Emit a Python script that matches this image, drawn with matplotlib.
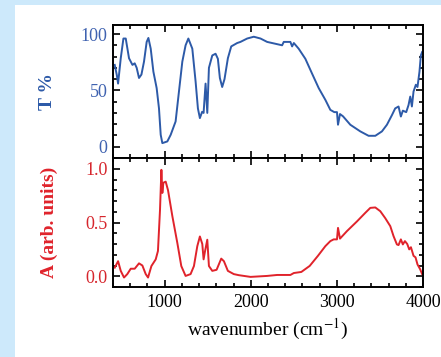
import matplotlib
matplotlib.use('Agg')
import matplotlib.pyplot as plt
from matplotlib.patches import Rectangle
from matplotlib.ticker import MultipleLocator

plt.rcParams['font.family'] = ['Liberation Serif', 'DejaVu Serif']
plt.rcParams['mathtext.fontset'] = 'stix'

# transmittance spectrum
wn_t = [420, 444, 459, 490, 521, 548, 586, 626, 652, 675, 702, 730, 760, 791, 811,
        838, 869, 907, 934, 954, 973, 1031, 1070, 1127, 1166, 1205, 1243, 1275, 1321,
        1359, 1386, 1409, 1435, 1452, 1475, 1495, 1514, 1553, 1591, 1618, 1641, 1668,
        1695, 1734, 1773, 1842, 1880, 1958, 2035, 2113, 2190, 2306, 2364, 2383, 2460,
        2480, 2500, 2556, 2634, 2711, 2789, 2866, 2924, 2970, 3001, 3013, 3036, 3071,
        3156, 3272, 3368, 3446, 3523, 3581, 3639, 3677, 3716, 3743, 3766, 3805, 3832,
        3852, 3871, 3890, 3917, 3936, 3959, 3975, 3990]
trans = [72.6, 63.7, 56, 78.5, 96, 96, 78.5, 72.6, 74, 70, 61, 64, 75.5, 93, 96.5,
         87, 66.6, 52, 34, 10.6, 3.2, 4.7, 10.6, 22.4, 49, 75.5, 90, 96, 87,
         58, 34, 25.4, 31, 30, 56, 30, 70, 81, 82.5, 78, 61, 53,
         60, 78.5, 89, 92, 93, 96, 97.6, 96, 93, 91, 90, 93, 93,
         89, 92, 87, 78, 65, 52, 41.6, 32.7, 30.7, 30.7, 19.5, 29, 27,
         19.5, 13.6, 9.7, 9.7, 13.6, 19.5, 28, 34, 35.7, 26.8, 32, 30.7, 37,
         44.5, 35.7, 49, 55, 53, 66.6, 81, 84]

# absorbance spectrum
wn_a = [420, 459, 490, 528, 566, 606, 652, 702, 741, 780, 807, 846, 896, 922, 946,
        962, 973, 985, 1012, 1039, 1089, 1147, 1193, 1243, 1301, 1340, 1379, 1409,
        1437, 1452, 1468, 1495, 1514, 1553, 1603, 1657, 1688, 1734, 1803, 1861, 1997,
        2190, 2306, 2460, 2500, 2587, 2684, 2780, 2866, 2924, 2963, 3001, 3013, 3036,
        3117, 3233, 3330, 3388, 3446, 3504, 3562, 3620, 3658, 3697, 3716, 3743, 3766,
        3790, 3817, 3840, 3860, 3890, 3913, 3936, 3967, 3990]
absb = [0.08, 0.14, 0.05, -0.012, 0.02, 0.07, 0.07, 0.12, 0.1, 0.02, -0.012, 0.095, 0.157, 0.235, 0.62,
        0.99, 0.775, 0.87, 0.88, 0.8, 0.56, 0.31, 0.095, 0.003, 0.02, 0.095, 0.28, 0.37,
        0.30, 0.157, 0.23, 0.34, 0.095, 0.05, 0.06, 0.164, 0.14, 0.05, 0.02, 0.01, -0.006,
        0.003, 0.012, 0.012, 0.03, 0.04, 0.096, 0.19, 0.28, 0.327, 0.343, 0.343, 0.45, 0.35,
        0.42, 0.51, 0.59, 0.636, 0.64, 0.605, 0.54, 0.466, 0.373, 0.296, 0.29, 0.343, 0.296,
        0.327, 0.30, 0.25, 0.27, 0.19, 0.176, 0.11, 0.065, 0.02]

blue = '#2d5aa8'
red = '#e0232b'

fig = plt.figure(figsize=(4.41, 3.57), dpi=100)
fig.patch.set_facecolor('#cde9fb')
fig.patches.append(Rectangle((15/441, 0), 1, 1 - 5/357, transform=fig.transFigure,
                             facecolor='white', edgecolor='none', zorder=-1))

L, R = 113/441, 423/441
ax1 = fig.add_axes([L, 1 - 158/357, R - L, (158 - 25)/357])
ax2 = fig.add_axes([L, 1 - 287/357, R - L, (287 - 158)/357])

ax1.plot(wn_t, trans, color=blue, lw=1.4)
ax2.plot(wn_a, absb, color=red, lw=1.4)

for ax in (ax1, ax2):
    ax.set_xlim(400, 4000)
    ax.xaxis.set_major_locator(MultipleLocator(1000))
    ax.xaxis.set_minor_locator(MultipleLocator(200))
    ax.tick_params(which='both', direction='in', top=True, right=True, width=1.2)
    ax.tick_params(which='major', length=5)
    ax.tick_params(which='minor', length=3)
    for s in ax.spines.values():
        s.set_linewidth(1.4)

ax1.set_ylim(-10, 108)
ax1.yaxis.set_major_locator(MultipleLocator(50))
ax1.yaxis.set_minor_locator(MultipleLocator(10))
ax1.tick_params(axis='x', labelbottom=False)
ax1.tick_params(axis='y', labelcolor='#3f62b0', labelsize=13, pad=4)
ax1.set_ylabel('T %', color=blue, fontsize=14, fontweight='bold')
ax1.yaxis.set_label_coords(-0.184, 0.5)

ax2.set_ylim(-0.1, 1.1)
ax2.yaxis.set_major_locator(MultipleLocator(0.5))
ax2.yaxis.set_minor_locator(MultipleLocator(0.1))
ax2.tick_params(axis='y', labelcolor='#d6262d', labelsize=13, pad=4)
ax2.tick_params(axis='x', labelsize=13, pad=5)
ax2.set_ylabel('A (arb. units)', color=red, fontsize=14, fontweight='bold')
ax2.yaxis.set_label_coords(-0.177, 0.5)
ax2.set_xlabel(r'wavenumber (cm$^{\mathrm{-1}}$)', fontsize=14, labelpad=4)

fig.savefig('out.png', dpi=100, facecolor=fig.get_facecolor())
